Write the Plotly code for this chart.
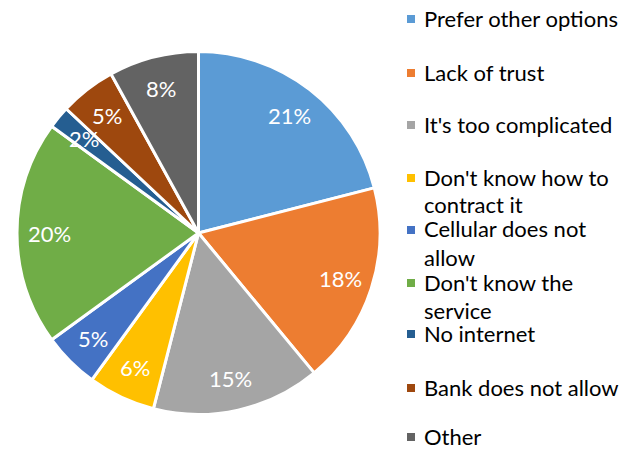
import math
import plotly.graph_objects as go

categories = ["Prefer other options", "Lack of trust", "It's too complicated",
              "Don't know how to contract it", "Cellular does not allow",
              "Don't know the service", "No internet", "Bank does not allow", "Other"]
values = [21, 18, 15, 6, 5, 20, 2, 5, 8]
colors = ["#5B9BD5", "#ED7D31", "#A5A5A5", "#FFC000", "#4472C4",
          "#70AD47", "#255E91", "#9E480E", "#636363"]
legend_lines = [["Prefer other options"], ["Lack of trust"], ["It's too complicated"],
                ["Don't know how to", "contract it"], ["Cellular does not", "allow"],
                ["Don't know the", "service"], ["No internet"], ["Bank does not allow"], ["Other"]]
legend_y = [18, 72, 124, 177, 229, 282, 333, 387, 436]

FONT = "Lato, Carlito, Calibri, sans-serif"
W, H = 634, 450
X0, X1, YT, YB = 17, 380, 51, 415

fig = go.Figure(go.Pie(
    labels=categories, values=values, sort=False, direction="clockwise", rotation=0,
    marker=dict(colors=colors, line=dict(color="white", width=3)),
    textinfo="none",
    domain=dict(x=[X0 / W, X1 / W], y=[1 - YB / H, 1 - YT / H]),
    showlegend=False, hoverinfo="label+percent",
))

# percentage labels placed at ~0.82 of the radius, along each slice's mid-angle
cx, cy = (X0 + X1) / 2, (YT + YB) / 2
R = min(X1 - X0, YB - YT) / 2
total = sum(values)
cum = 0
for v in values:
    ang = math.radians((cum + v / 2) / total * 360)
    cum += v
    r = 0.82 * R
    px, py = cx + r * math.sin(ang), cy - r * math.cos(ang)
    fig.add_annotation(text=f"{round(v / total * 100)}%", xref="paper", yref="paper",
                       x=px / W, y=1 - py / H, xanchor="center", yanchor="middle",
                       showarrow=False, font=dict(size=22, color="white", family=FONT))

for lines, y, c in zip(legend_lines, legend_y, colors):
    fig.add_shape(type="rect", xref="paper", yref="paper",
                  x0=407 / W, x1=415 / W, y0=1 - (y + 5) / H, y1=1 - (y - 3) / H,
                  fillcolor=c, line=dict(width=0))
    for i, t in enumerate(lines):
        fig.add_annotation(text=t, xref="paper", yref="paper", x=423 / W,
                           y=1 - (y + i * 28) / H, xanchor="left", yanchor="middle",
                           showarrow=False, borderpad=0,
                           font=dict(size=22, color="#000000", family=FONT))

fig.update_layout(width=W, height=H, margin=dict(l=0, r=0, t=0, b=0),
                  paper_bgcolor="white", plot_bgcolor="white")
fig.write_html("out.html")
